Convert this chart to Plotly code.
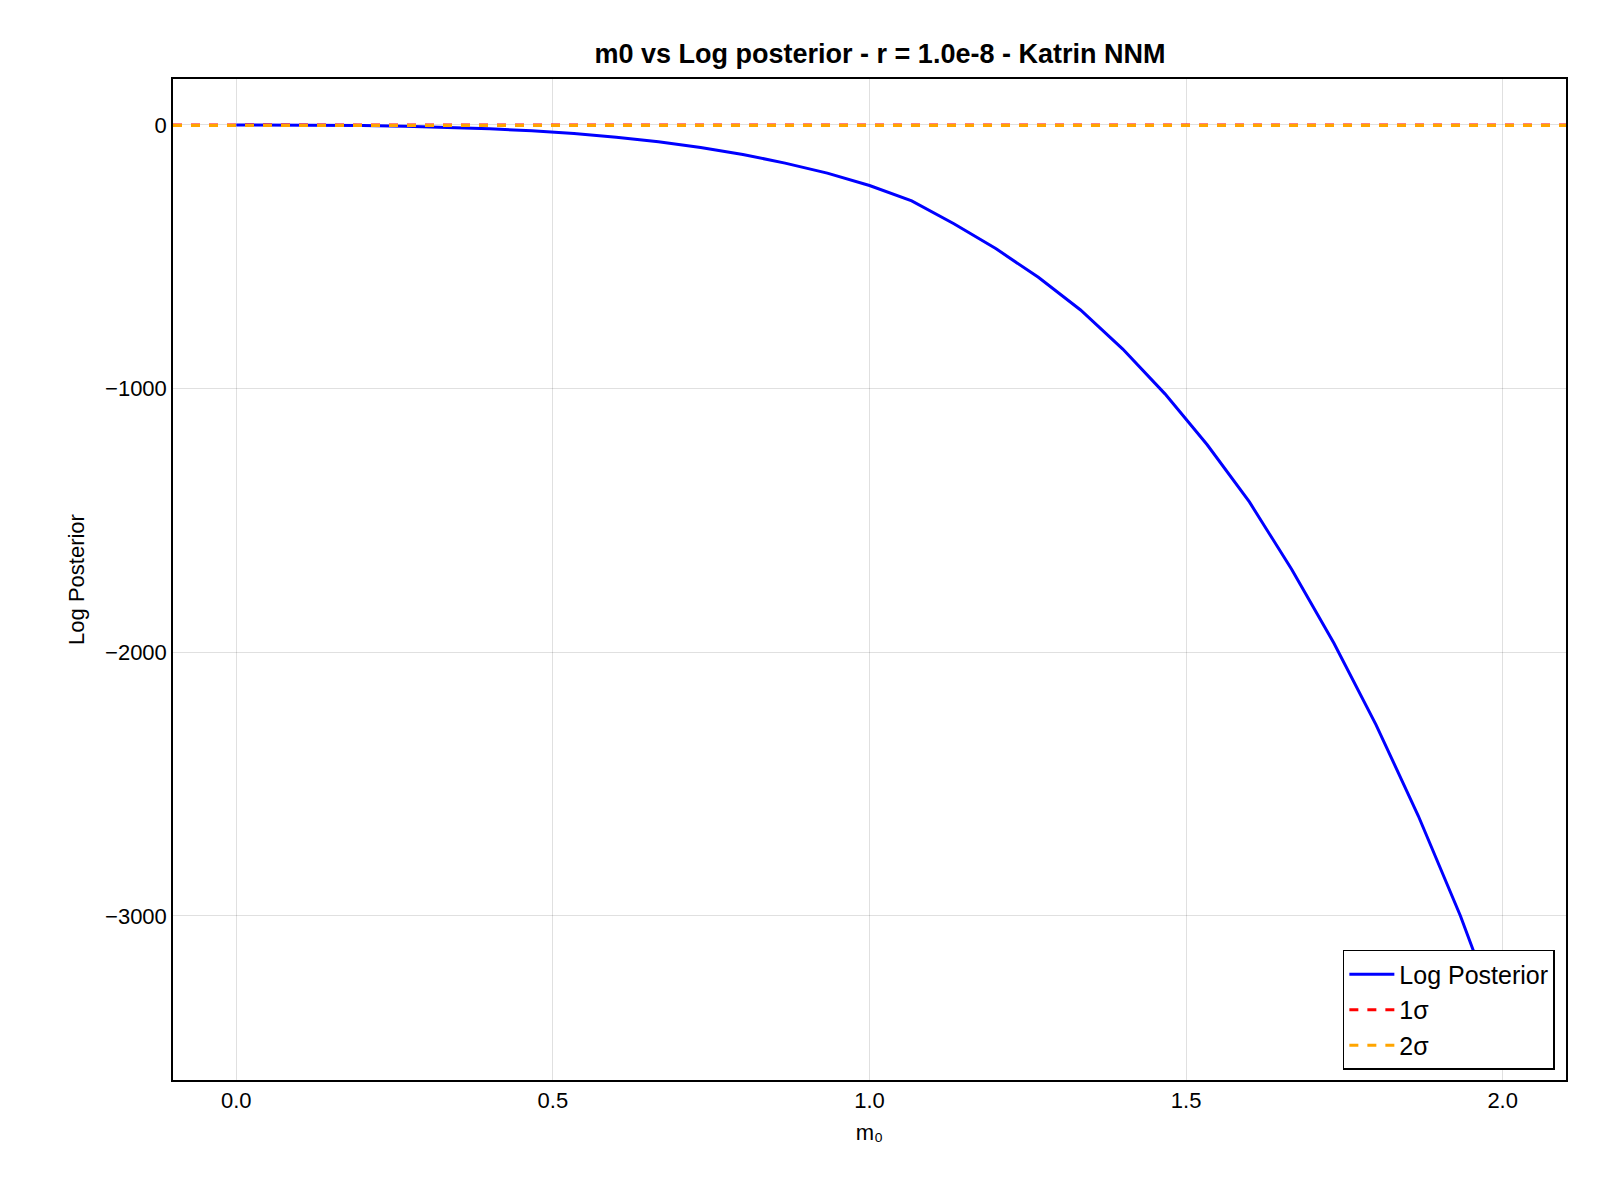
import plotly.graph_objects as go

# data
m0 = [i / 15 for i in range(31)]
log_post = [0, 0, -1, -2, -5, -9, -15, -22, -33, -47, -64, -86, -112, -145, -183,
            -230, -288, -375, -470, -578, -702, -850, -1020, -1213, -1430, -1685,
            -1965, -2275, -2620, -3000, -3430]
x_span = [-0.1, 2.1]
sigma1 = -0.5
sigma2 = -2.0

fig = go.Figure()
fig.add_trace(go.Scatter(x=m0, y=log_post, mode="lines", name="Log Posterior",
                         line=dict(color="blue", width=3)))
fig.add_trace(go.Scatter(x=x_span, y=[sigma1, sigma1], mode="lines", name="1σ",
                         line=dict(color="red", width=3, dash="dash")))
fig.add_trace(go.Scatter(x=x_span, y=[sigma2, sigma2], mode="lines", name="2σ",
                         line=dict(color="orange", width=3, dash="dash")))

axis = dict(showline=True, linecolor="black", linewidth=1.5, mirror=True,
            gridcolor="rgba(0,0,0,0.12)", zeroline=False, ticks="",
            tickfont=dict(size=22, color="black"))
fig.update_layout(
    width=1600, height=1200,
    plot_bgcolor="white", paper_bgcolor="white",
    font=dict(family="Liberation Sans, Arial, sans-serif", color="black"),
    title=dict(text="<b>m0 vs Log posterior - r = 1.0e-8 - Katrin NNM</b>",
               x=0.545, xanchor="center", y=0.97, font=dict(size=27)),
    margin=dict(l=165, r=42, t=71, b=128),
    xaxis=dict(axis, range=x_span, tickvals=[0, 0.5, 1, 1.5, 2],
               ticktext=["0.0", "0.5", "1.0", "1.5", "2.0"],
               title=dict(text="m₀", font=dict(size=22), standoff=12)),
    yaxis=dict(axis, range=[-3622, 174], tickvals=[0, -1000, -2000, -3000],
               ticktext=["0", "−1000", "−2000", "−3000"],
               title=dict(text="Log Posterior", font=dict(size=22), standoff=14)),
    legend=dict(x=0.992, y=0.01, xanchor="right", yanchor="bottom",
                bordercolor="black", borderwidth=1.5, bgcolor="white",
                font=dict(size=25), itemwidth=45, tracegroupgap=8),
)

fig.write_html("out.html")
